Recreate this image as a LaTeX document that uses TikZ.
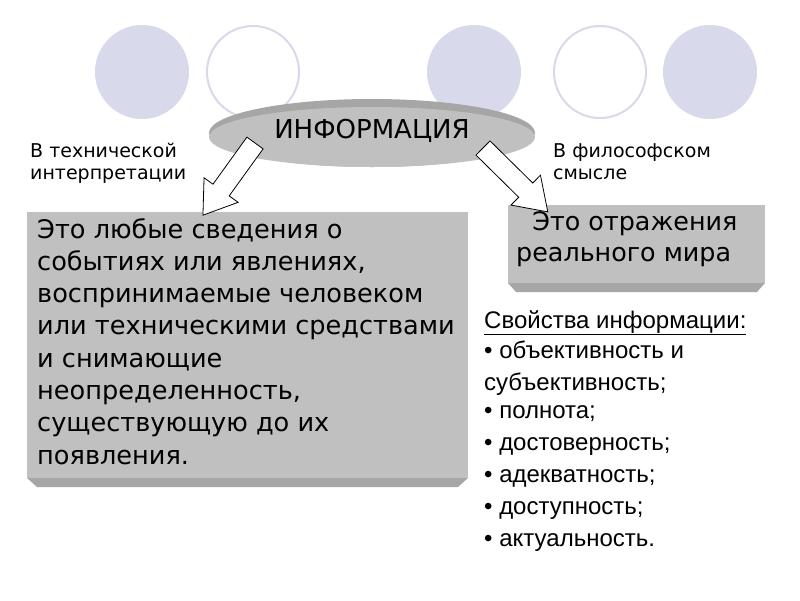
\documentclass[tikz,border=0pt]{standalone}
\usepackage{fontspec}
\setmainfont{DejaVu Sans}
\newfontfamily\arialf{Liberation Sans}
\begin{document}
\begin{tikzpicture}[x=1pt,y=-1pt,
  circf/.style={fill=lav,draw=none},
  circo/.style={draw=lav,line width=2pt,fill=white},
  barrow/.style={draw=black,fill=white,line width=0.8pt},
  lbl/.style={anchor=north west,align=left,inner sep=0pt,font=\fontsize{19}{22}\selectfont},
  prop/.style={anchor=north west,inner sep=0pt,font=\arialf\fontsize{24}{28}\selectfont}]
\definecolor{lav}{HTML}{D9D9EC}
\definecolor{boxg}{HTML}{C0C0C0}
\definecolor{boxd}{HTML}{A6A6A6}
\useasboundingbox (0,0) rectangle (800,600);
\fill[white] (0,0) rectangle (800,600);
% circles
\fill[circf] (142,72) circle (47);
\draw[circo] (253,72) circle (46);
\fill[circf] (474,72) circle (47);
\draw[circo] (600,72) circle (46);
\fill[circf] (710,72) circle (47);
% ellipse
\fill[boxd] (372,133) ellipse (163 and 34);
\fill[boxg] (372,137) ellipse (163 and 30);
\node (info) at (372,131) {\fontsize{26}{30}\selectfont ИНФОРМАЦИЯ};
% left box
\fill[boxd] (27,478) -- (468,478) -- (458,487) -- (37,487) -- cycle;
\fill[boxg] (27,212) rectangle (468,478);
\node[anchor=north west,align=left,inner sep=0pt,font=\fontsize{25.6}{32.3}\selectfont] (left) at (37,218)
{Это любые сведения о\\событиях или явлениях,\\воспринимаемые человеком\\или техническими средствами\\и снимающие\\неопределенность,\\существующую до их\\появления.};
% right box
\fill[boxd] (508,283) -- (765,283) -- (757,292) -- (516,292) -- cycle;
\fill[boxg] (508,205) rectangle (765,283);
\node[anchor=north west,align=left,inner sep=0pt,font=\fontsize{25.4}{31}\selectfont] (right) at (516,211)
{\ \ Это отражения\\реального мира};
% arrows
\begin{scope}[shift={(255,143)},rotate=-125.8]
\draw[barrow] (0,-10) -- (58,-10) -- (58,-21) -- (89,0) -- (58,21) -- (58,10) -- (0,10) -- cycle;
\end{scope}
\begin{scope}[shift={(483,148)},rotate=-44.6]
\draw[barrow] (0,-10) -- (60,-10) -- (60,-21) -- (91,0) -- (60,21) -- (60,10) -- (0,10) -- cycle;
\end{scope}
% labels
\node[lbl] (lt) at (30,143) {В технической\\интерпретации};
\node[lbl] (rt) at (553,143) {В философском\\смысле};
% properties
\node[prop] (p0) at (484,310) {\underline{Свойства информации:}};
\node[prop] (p1) at (484,341) {• объективность и};
\node[prop] (p2) at (484,373) {субъективность;};
\node[prop] (p3) at (484,405) {• полнота;};
\node[prop] (p4) at (484,437) {• достоверность;};
\node[prop] (p5) at (484,469) {• адекватность;};
\node[prop] (p6) at (484,501) {• доступность;};
\node[prop] (p7) at (484,533) {• актуальность.};
\end{tikzpicture}
\end{document}
